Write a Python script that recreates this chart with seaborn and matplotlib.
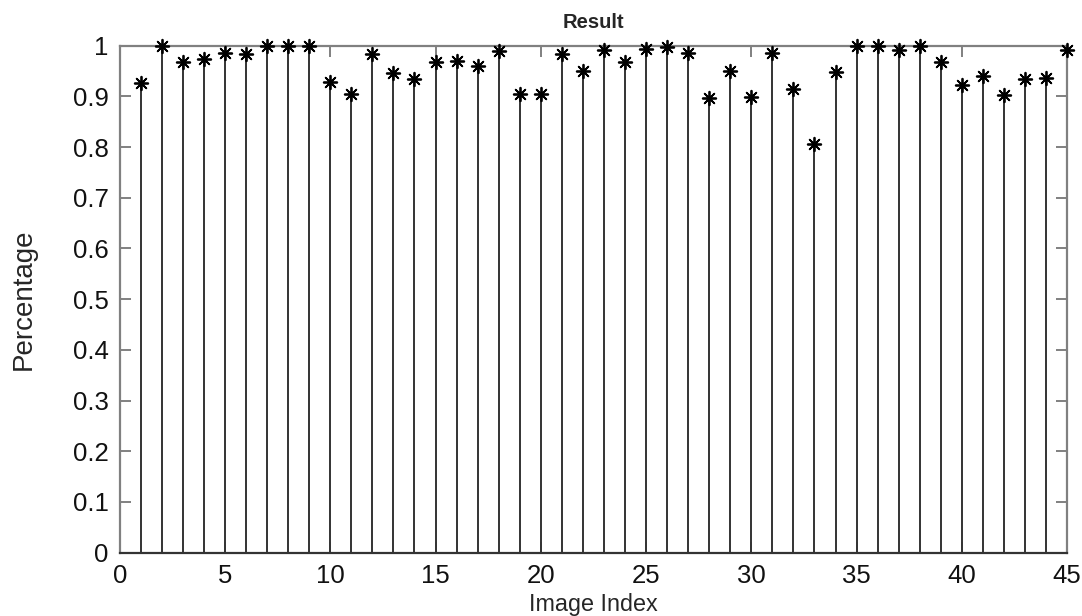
import numpy as np
import matplotlib
matplotlib.use('Agg')
import matplotlib.pyplot as plt
import seaborn as sns
import pandas as pd

# data (one value per image)
image_index = list(range(1, 46))
percentage = [0.926, 1.0, 0.967, 0.974, 0.986, 0.983, 1.0, 1.0, 1.0, 0.929,
              0.905, 0.983, 0.947, 0.934, 0.967, 0.970, 0.960, 0.990, 0.905, 0.905,
              0.983, 0.951, 0.992, 0.967, 0.993, 0.997, 0.985, 0.896, 0.951, 0.899,
              0.986, 0.914, 0.807, 0.949, 1.0, 1.0, 0.992, 1.0, 0.968, 0.922,
              0.940, 0.903, 0.934, 0.937, 0.992]
x_ticks = [0, 5, 10, 15, 20, 25, 30, 35, 40, 45]
y_ticks = [0, 0.1, 0.2, 0.3, 0.4, 0.5, 0.6, 0.7, 0.8, 0.9, 1]
y_labels = ['0', '0.1', '0.2', '0.3', '0.4', '0.5', '0.6', '0.7', '0.8', '0.9', '1']

df = pd.DataFrame({'Image Index': image_index, 'Percentage': percentage})

sns.set_theme(style='ticks')
plt.rcParams['font.family'] = ['Liberation Sans', 'DejaVu Sans']

fig = plt.figure(figsize=(10.82, 6.16), dpi=100)
ax = fig.add_axes([0.1107, 0.1028, 0.8755, 0.8230])

# stems
ax.vlines(df['Image Index'], 0, df['Percentage'], color='#333333', linewidth=1.4, zorder=2)
# asterisk markers
sns.scatterplot(data=df, x='Image Index', y='Percentage', marker=(8, 2, 0),
                s=95, color='black', linewidth=1.3, ax=ax, zorder=3, clip_on=False)

ax.set_xlim(0, 45)
ax.set_ylim(0, 1)
ax.set_xticks(x_ticks)
ax.set_xticklabels([str(t) for t in x_ticks])
ax.set_yticks(y_ticks)
ax.set_yticklabels(y_labels)

for side in ['top', 'right', 'bottom', 'left']:
    ax.spines[side].set_visible(True)
    ax.spines[side].set_color('#808080')
    ax.spines[side].set_linewidth(1.6)
ax.spines['bottom'].set_color('#333333')

ax.tick_params(direction='in', length=8, width=1.4, color='#808080',
               labelsize=18.5, top=True, right=True, pad=8, labelcolor='#111111')

ax.set_title('Result', fontsize=14.5, fontweight='bold', pad=13)
ax.set_xlabel('Image Index', fontsize=16.8, labelpad=4)
ax.set_ylabel('Percentage', fontsize=20, labelpad=26)

fig.savefig('out.png', dpi=100)
